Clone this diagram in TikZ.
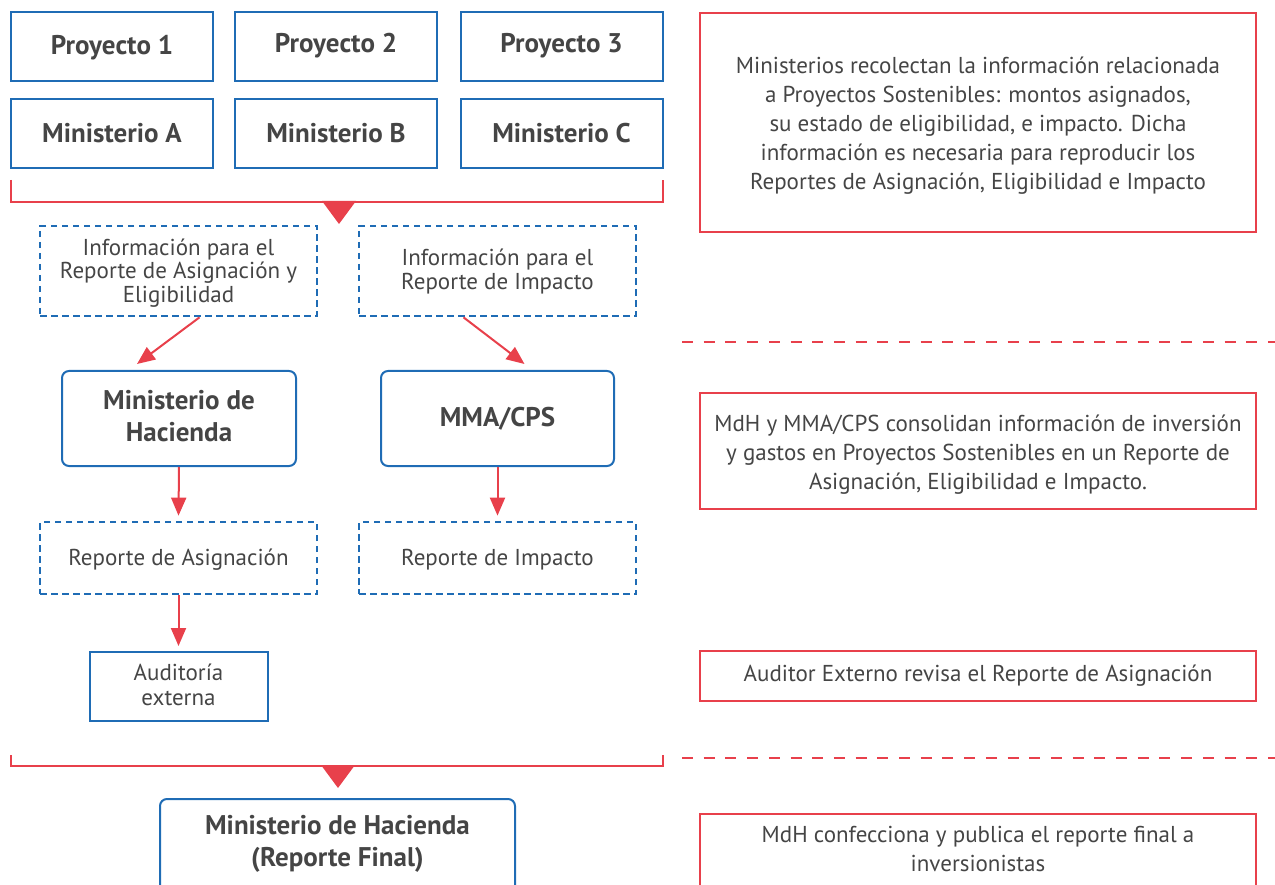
\documentclass[tikz,border=0pt]{standalone}
\usepackage{fontspec}
\setmainfont{PT Sans}
\usetikzlibrary{arrows.meta,calc}
\definecolor{bl}{HTML}{1F6CB5}
\definecolor{rd}{HTML}{E8404B}
\definecolor{tx}{HTML}{454545}
\newcommand\mvdown[2]{\raisebox{-#1}[\height][\depth]{#2}}
\tikzset{
  bbox/.style={draw=bl,line width=2pt,inner sep=0pt,align=center,text=tx,font=\fontsize{27}{32}\selectfont\bfseries},
  rbox/.style={bbox,rounded corners=7pt},
  dbox/.style={draw=bl,line width=2.7pt,dash pattern=on 6.5pt off 4.5pt,inner sep=0pt,align=center,text=tx,font=\fontsize{23}{23.7}\selectfont},
  sbox/.style={draw=bl,line width=2pt,inner sep=0pt,align=center,text=tx,font=\fontsize{23}{25}\selectfont},
  redbox/.style={draw=rd,line width=2.5pt,inner sep=0pt,align=center,text=tx,font=\fontsize{23}{29}\selectfont},
  rarrow/.style={draw=rd,line width=2pt,-{Triangle[length=18pt,width=15pt]}},
  bracket/.style={draw=rd,line width=2.2pt},
  rdash/.style={draw=rd,line width=2.5pt,dash pattern=on 11pt off 10.7pt},
}
\begin{document}
\begin{tikzpicture}[x=1pt,y=-1pt]
\useasboundingbox (0,0) rectangle (1275,885);
% top boxes
\node[bbox,minimum width=202pt,minimum height=69pt] (p1) at (112,46.5) {\mvdown{1pt}{Proyecto 1}};
\node[bbox,minimum width=202pt,minimum height=69pt] (p2) at (336,46.5) {\mvdown{-1pt}{Proyecto 2}};
\node[bbox,minimum width=202pt,minimum height=69pt] (p3) at (561.5,46.5) {\mvdown{-1pt}{Proyecto 3}};
\node[bbox,minimum width=202pt,minimum height=69pt] (ma) at (112,133.5) {Ministerio A};
\node[bbox,minimum width=202pt,minimum height=69pt] (mb) at (336,133.5) {Ministerio B};
\node[bbox,minimum width=202pt,minimum height=69pt] (mc) at (561.5,133.5) {Ministerio C};
% bracket 1
\coordinate (b1l) at (11,180);
\coordinate (b1r) at (663,180);
\draw[bracket] (b1l) -- (11,202) -- (663,202) -- (b1r);
\fill[rd] (322,201) -- (356,201) -- (339,224) -- cycle;
% info boxes
\node[dbox,minimum width=277pt,minimum height=90pt] (i1) at (178.5,271) {\mvdown{3pt}{\begin{tabular}{@{}c@{}}Información para el\\Reporte de Asignación y\\Eligibilidad\end{tabular}}};
\node[dbox,minimum width=277pt,minimum height=90pt] (i2) at (497.5,271) {\mvdown{1.5pt}{\begin{tabular}{@{}c@{}}Información para el\\Reporte de Impacto\end{tabular}}};
% ministries
\node[rbox,minimum width=234pt,minimum height=95pt,font=\fontsize{27}{32}\selectfont\bfseries] (mdh) at (179,418.5) {\mvdown{1pt}{\begin{tabular}{@{}c@{}}Ministerio de\\Hacienda\end{tabular}}};
\node[rbox,minimum width=233pt,minimum height=95pt,font=\fontsize{27}{32}\selectfont\bfseries] (mma) at (497.5,418.5) {MMA/CPS};
\draw[rarrow] ($(i1.south)+(21,0)$) -- ($(mdh.north)+(-42,-6)$);
\draw[rarrow] ($(i2.south)+(-34,0)$) -- ($(mma.north)+(27,-6)$);
% reports
\node[dbox,minimum width=277pt,minimum height=72pt] (ra) at (178.5,558) {\mvdown{2pt}{Reporte de Asignación}};
\node[dbox,minimum width=277pt,minimum height=72pt] (ri) at (497.5,558) {\mvdown{2pt}{Reporte de Impacto}};
\draw[rarrow] (mdh.south) -- ($(ra.north)+(0,-5)$);
\draw[rarrow] (mma.south) -- ($(ri.north)+(0,-5)$);
% audit
\node[sbox,minimum width=178pt,minimum height=69pt] (au) at (178.5,686.5) {\mvdown{1pt}{\begin{tabular}{@{}c@{}}Auditoría\\externa\end{tabular}}};
\draw[rarrow] (ra.south) -- ($(au.north)+(0,-5)$);
% bracket 2
\coordinate (b2l) at (11,755);
\coordinate (b2r) at (663,755);
\draw[bracket] (b2l) -- (11,766) -- (663,766) -- (b2r);
\fill[rd] (321,765) -- (355,765) -- (338,788) -- cycle;
% final
\draw[draw=bl,line width=2pt,rounded corners=7pt] (160,900) -- (160,799) -- (515,799) -- (515,900);
\node[text=tx,align=center,font=\fontsize{27}{32}\selectfont\bfseries] (fin) at (337.5,844) {Ministerio de Hacienda\\(Reporte Final)};
% right column
\node[redbox,minimum width=556pt,minimum height=219pt] (t1) at (978,122.5) {\mvdown{3.5pt}{\begin{tabular}{@{}c@{}}Ministerios recolectan la información relacionada\\a Proyectos Sostenibles: montos asignados,\\su estado de eligibilidad, e impacto. Dicha\\información es necesaria para reproducir los\\Reportes de Asignación, Eligibilidad e Impacto\end{tabular}}};
\coordinate (d1l) at (682,342);
\coordinate (d1r) at (1275,342);
\draw[rdash] (d1l) -- (d1r);
\node[redbox,minimum width=556pt,minimum height=116pt] (t2) at (978,451) {\mvdown{3.5pt}{\begin{tabular}{@{}c@{}}MdH y MMA/CPS consolidan información de inversión\\y gastos en Proyectos Sostenibles en un Reporte de\\Asignación, Eligibilidad e Impacto.\end{tabular}}};
\node[redbox,minimum width=556pt,minimum height=50pt] (t3) at (978,676) {Auditor Externo revisa el Reporte de Asignación};
\coordinate (d2l) at (682,758);
\coordinate (d2r) at (1275,758);
\draw[rdash] (d2l) -- (d2r);
\draw[draw=rd,line width=2.5pt] (700,900) -- (700,814) -- (1256,814) -- (1256,900);
\node[text=tx,align=center,font=\fontsize{23}{29}\selectfont] (t4) at (978,849) {MdH confecciona y publica el reporte final a\\inversionistas};
\end{tikzpicture}
\end{document}
